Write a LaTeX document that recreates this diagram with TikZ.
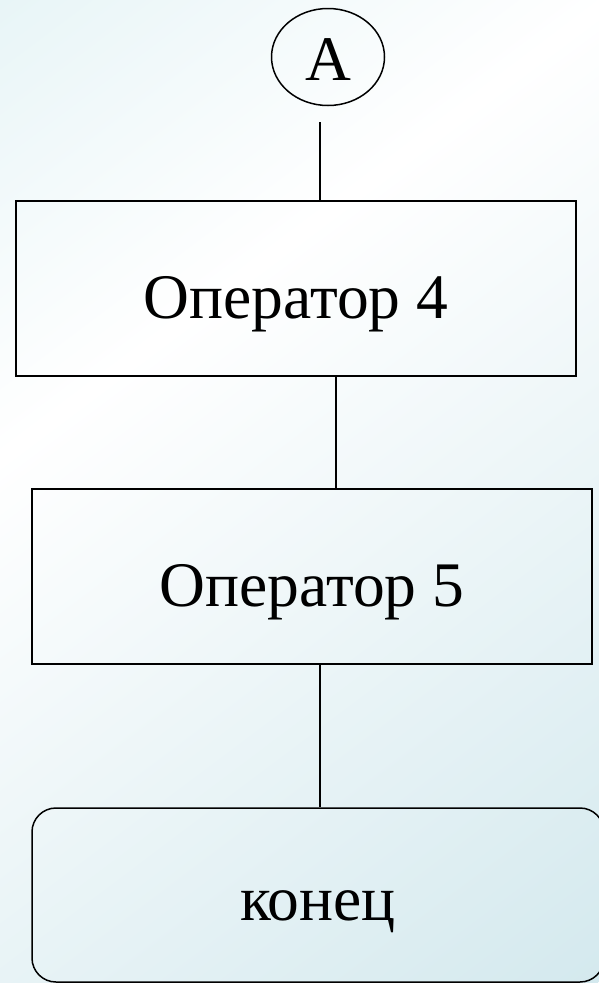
\documentclass[tikz,border=0pt]{standalone}
\usepackage{fontspec}
\setmainfont{Liberation Serif}
\usetikzlibrary{shapes.geometric}
\definecolor{bgtop}{RGB}{232,245,247}
\definecolor{bgbot}{RGB}{212,233,238}
\pgfdeclareverticalshading{bgshade}{100bp}{color(0bp)=(bgbot); color(25bp)=(bgbot);
  color(59bp)=(white); color(75bp)=(bgtop); color(100bp)=(bgtop)}
\begin{document}
\begin{tikzpicture}[x=1pt,y=-1pt,
  blk/.style={draw,line width=1.5pt,minimum width=560pt,minimum height=175pt,inner sep=0pt,
    text height=59pt,text depth=0pt,font=\fontsize{63.5}{70}\selectfont},
  term/.style={blk,rounded corners=24pt,minimum width=572pt,minimum height=174pt,text height=50pt},
  conn/.style={draw,ellipse,line width=1.5pt,minimum width=113pt,minimum height=97pt,inner sep=0pt,
    text height=46pt,text depth=0pt,font=\fontsize{63.5}{70}\selectfont},
  ln/.style={line width=1.5pt}]
  \useasboundingbox (0,0) rectangle (598,983);
  % background, shaded along the diagonal
  \shade[shading=bgshade,transform canvas={rotate=36.9}] (-600,0) rectangle (490,1145);
  \node[conn] (a) at (328,57) {A};
  \node[blk] (op4) at (296,288.5) {Оператор 4};
  \node[blk] (op5) at (312,576.5) {Оператор 5};
  \node[term] (kon) at (318,895) {конец};
  \coordinate (a0) at (320,122);
  \draw[ln] (a0) -- (a0 |- op4.north);
  \draw[ln] ([xshift=40pt]op4.south) -- ([xshift=40pt]op4.south |- op5.north);
  \draw[ln] ([xshift=8pt]op5.south) -- ([xshift=8pt]op5.south |- kon.north);
\end{tikzpicture}
\end{document}
